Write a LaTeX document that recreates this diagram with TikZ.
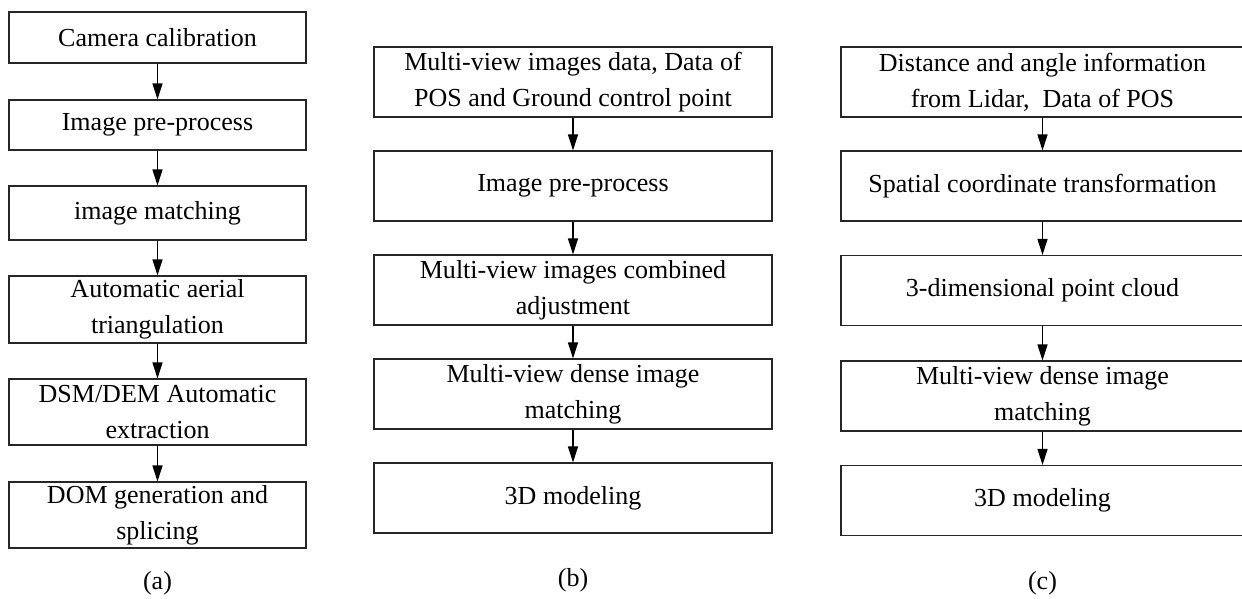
\documentclass[tikz,border=0pt]{standalone}
\usepackage{fontspec}
\setmainfont{Liberation Serif}
\usetikzlibrary{positioning,arrows.meta}

\tikzset{
  stepbox/.style={draw=black!85,line width=0.6pt,rectangle,align=center,inner xsep=2pt,inner ysep=0pt,
    font=\fontsize{14.8}{20.5}\selectfont},
  flowarrow/.style={-{Triangle[length=0.32cm,width=0.2cm]},line width=0.7pt}
}

\begin{document}
\begin{tikzpicture}
        \useasboundingbox (0,0) rectangle (24.84,11.98);
        % (a)
        \node[stepbox,minimum width=5.94cm,minimum height=1.02cm] (a1) at (3.15,11.23) {Camera calibration};
        \node[stepbox,minimum width=5.94cm,minimum height=1.00cm] (a2) at (3.15,9.48) {Image pre-process};
        \node[stepbox,minimum width=5.94cm,minimum height=1.08cm] (a3) at (3.15,7.72) {image matching};
        \node[stepbox,minimum width=5.94cm,minimum height=1.34cm] (a4) at (3.15,5.79) {Automatic aerial\\triangulation};
        \node[stepbox,minimum width=5.94cm,minimum height=1.32cm] (a5) at (3.15,3.74) {DSM/DEM Automatic\\extraction};
        \node[stepbox,minimum width=5.94cm,minimum height=1.32cm] (a6) at (3.15,1.68) {DOM generation and\\splicing};
        \node[font=\fontsize{14.8}{20.5}\selectfont] (la) at (3.15,0.32) {(a)};
        \draw[flowarrow] (a1) -- (a2);
        \draw[flowarrow] (a2) -- (a3);
        \draw[flowarrow] (a3) -- (a4);
        \draw[flowarrow] (a4) -- (a5);
        \draw[flowarrow] (a5) -- (a6);
        % (b)
        \node[stepbox,minimum width=7.96cm,minimum height=1.4cm] (b1) at (11.46,10.34) {Multi-view images data, Data of\\POS and Ground control point};
        \node[stepbox,minimum width=7.96cm,minimum height=1.4cm] (b2) at (11.46,8.26) {Image pre-process};
        \node[stepbox,minimum width=7.96cm,minimum height=1.4cm] (b3) at (11.46,6.18) {Multi-view images combined\\adjustment};
        \node[stepbox,minimum width=7.96cm,minimum height=1.4cm] (b4) at (11.46,4.10) {Multi-view dense image\\matching};
        \node[stepbox,minimum width=7.96cm,minimum height=1.4cm] (b5) at (11.46,2.02) {3D modeling};
        \node[font=\fontsize{14.8}{20.5}\selectfont] (lb) at (11.46,0.38) {(b)};
        \draw[flowarrow] (b1) -- (b2);
        \draw[flowarrow] (b2) -- (b3);
        \draw[flowarrow] (b3) -- (b4);
        \draw[flowarrow] (b4) -- (b5);
        % (c)
        \node[stepbox,minimum width=8.06cm,minimum height=1.4cm] (c1) at (20.85,10.34) {Distance and angle information\\from Lidar,\ \ Data of POS};
        \node[stepbox,minimum width=8.06cm,minimum height=1.4cm] (c2) at (20.85,8.26) {Spatial coordinate transformation};
        \node[stepbox,minimum width=8.06cm,minimum height=1.4cm] (c3) at (20.85,6.17) {3-dimensional point cloud};
        \node[stepbox,minimum width=8.06cm,minimum height=1.4cm] (c4) at (20.85,4.06) {Multi-view dense image\\matching};
        \node[stepbox,minimum width=8.06cm,minimum height=1.4cm] (c5) at (20.85,1.97) {3D modeling};
        \node[font=\fontsize{14.8}{20.5}\selectfont] (lc) at (20.85,0.32) {(c)};
        \draw[flowarrow] (c1) -- (c2);
        \draw[flowarrow] (c2) -- (c3);
        \draw[flowarrow] (c3) -- (c4);
        \draw[flowarrow] (c4) -- (c5);
\end{tikzpicture}
\end{document}
